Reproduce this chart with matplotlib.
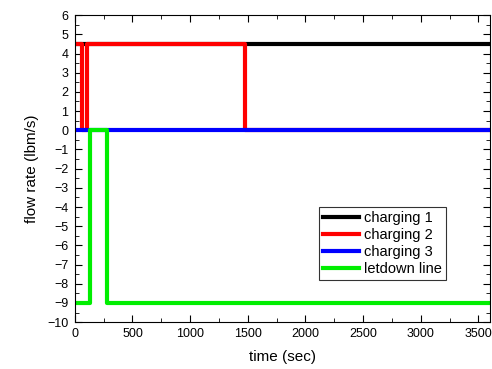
import numpy as np
import matplotlib
matplotlib.use('Agg')
import matplotlib.pyplot as plt
from matplotlib.ticker import MultipleLocator

plt.rcParams['font.family'] = ['Liberation Sans', 'DejaVu Sans']

# step data (time in sec, flow in lbm/s)
t1 = [0, 3600]
q1 = [4.5, 4.5]
t2 = [0, 60, 60, 110, 110, 1480, 1480, 3600]
q2 = [4.5, 4.5, 0, 0, 4.5, 4.5, 0, 0]
t3 = [0, 3600]
q3 = [0, 0]
t4 = [0, 136, 136, 275, 275, 3600]
q4 = [-9, -9, 0, 0, -9, -9]
names = ['charging 1', 'charging 2', 'charging 3', 'letdown line']

fig = plt.figure(figsize=(4.92, 3.69), dpi=100)
ax = fig.add_axes([0.152, 0.127, 0.844, 0.832])
lw = 3
ax.plot(t1, q1, color='black', lw=lw, label=names[0])
ax.plot(t2, q2, color='red', lw=lw, label=names[1])
ax.plot(t3, q3, color='blue', lw=lw, label=names[2])
ax.plot(t4, q4, color='#00ee00', lw=lw, label=names[3])

ax.set_xlim(0, 3600)
ax.set_ylim(-10, 6)
ax.xaxis.set_major_locator(MultipleLocator(500))
ax.xaxis.set_minor_locator(MultipleLocator(250))
ax.yaxis.set_major_locator(MultipleLocator(1))
ax.yaxis.set_minor_locator(MultipleLocator(0.5))
ax.tick_params(which='both', direction='in', top=True, right=True, labelsize=9)
ax.tick_params(which='major', length=5, pad=4.5)
ax.tick_params(which='minor', length=3)
ax.set_xlabel('time (sec)', fontsize=11, labelpad=7)
ax.set_ylabel('flow rate (lbm/s)', fontsize=11, labelpad=6)

leg = ax.legend(loc='lower right', bbox_to_anchor=(0.894, 0.137), borderaxespad=0,
                fontsize=10.5, frameon=True, fancybox=False, edgecolor='black',
                handlelength=2.5, borderpad=0.3, labelspacing=0.2,
                handletextpad=0.3)
leg.get_frame().set_linewidth(0.8)

fig.savefig('out.png', dpi=100)
